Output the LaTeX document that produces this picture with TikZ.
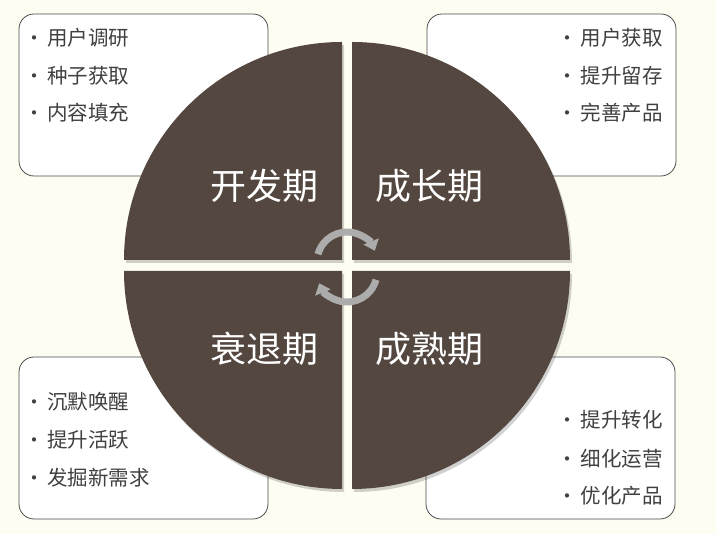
\documentclass[tikz,border=0pt]{standalone}
\usepackage{fontspec}
\setmainfont{Noto Sans CJK SC}
\usetikzlibrary{arrows.meta}

\definecolor{bgcream}{RGB}{253,253,242}
\definecolor{quadbrown}{RGB}{83,71,64}
\definecolor{itemgray}{RGB}{64,64,64}
\definecolor{arcgray}{RGB}{172,172,172}

\newcommand{\bul}{{\fontsize{20}{20}\selectfont\textbullet}\hspace{3pt}}

\begin{document}
\begin{tikzpicture}[x=1pt, y=1pt, >={Triangle[length=10pt,width=16pt]}, semithick]
            \fill[bgcream] (0,0) rectangle (716,534);
            \useasboundingbox (0,0) rectangle (716,534);

            \tikzset{
                listbox/.style={draw=black!70, fill=white, rounded corners=15pt, line width=0.8pt},
                item/.style={text=itemgray, font=\fontsize{20.5}{20}\selectfont, inner sep=0pt},
                phase/.style={text=white, font=\fontsize{36}{36}\selectfont, inner sep=0pt},
                arcline/.style={draw=arcgray, line width=7pt}
            }

            % the four list boxes
            \draw[listbox] (19,358) rectangle (268,520);
            \draw[listbox] (427,358) rectangle (676,520);
            \draw[listbox] (19,15) rectangle (268,177);
            \draw[listbox] (426,15) rectangle (675,177);

            \node[item, anchor=west] (dev1) at (24,496) {\bul 用户调研};
            \node[item, anchor=west] (dev2) at (24,458) {\bul 种子获取};
            \node[item, anchor=west] (dev3) at (24,421) {\bul 内容填充};

            \node[item, anchor=east] (grow1) at (663,496) {\bul 用户获取};
            \node[item, anchor=east] (grow2) at (663,458) {\bul 提升留存};
            \node[item, anchor=east] (grow3) at (663,421) {\bul 完善产品};

            \node[item, anchor=west] (decl1) at (24,132) {\bul 沉默唤醒};
            \node[item, anchor=west] (decl2) at (24,94) {\bul 提升活跃};
            \node[item, anchor=west] (decl3) at (24,56) {\bul 发掘新需求};

            \node[item, anchor=east] (mat1) at (663,114) {\bul 提升转化};
            \node[item, anchor=east] (mat2) at (663,75) {\bul 细化运营};
            \node[item, anchor=east] (mat3) at (663,38) {\bul 优化产品};

            % quarter discs of the cycle
            \newcommand{\phasequad}[3]{
                \fill[black, opacity=0.18] (#1+2,#2-3) -- ++(#3:218) arc (#3:#3+90:218) -- cycle;
                \fill[quadbrown] (#1,#2) -- ++(#3:218) arc (#3:#3+90:218) -- cycle;
            }

            \phasequad{342}{274}{90};
            \phasequad{352}{274}{0};
            \phasequad{342}{263}{180};
            \phasequad{352}{263}{270};

            \node[phase] (kaifa) at (264,348) {开发期};
            \node[phase] (chengzhang) at (429,348) {成长期};
            \node[phase] (shuaitui) at (264,185) {衰退期};
            \node[phase] (chengshu) at (429,185) {成熟期};

            % turning arrows in the middle
            \draw[arcline, ->] (347,272) ++(165:30) arc (165:22:30);
            \draw[arcline, ->] (347,262) ++(-15:30) arc (-15:-158:30);
        \end{tikzpicture}
\end{document}
